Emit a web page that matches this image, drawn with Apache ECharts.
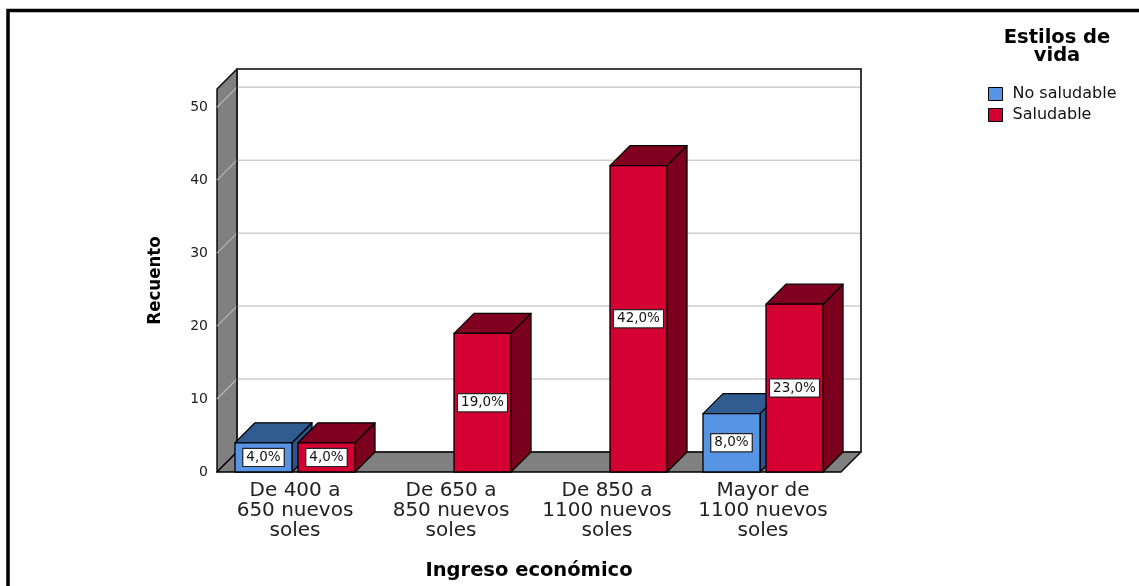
<!DOCTYPE html>
<html>
<head>
<meta charset="utf-8">
<script src="https://cdn.jsdelivr.net/npm/echarts@6/dist/echarts.min.js"></script>
<style>
  html, body { margin: 0; padding: 0; background: #fff; }
  #chart { width: 1139px; height: 586px; }
</style>
</head>
<body>
<div id="chart"></div>
<script>
// Counts of respondents by income bracket and lifestyle
const categories = [
  'De 400 a\n650 nuevos\nsoles',
  'De 650 a\n850 nuevos\nsoles',
  'De 850 a\n1100 nuevos\nsoles',
  'Mayor de\n1100 nuevos\nsoles'
];
const seriesNames = ['No saludable', 'Saludable'];
const noSaludable = [4, 0, 0, 8];
const saludable = [4, 19, 42, 23];
const yTicks = [0, 10, 20, 30, 40, 50];

const total = noSaludable.concat(saludable).reduce((a, b) => a + b, 0);

// 3D look: depth offset of the back plane, bar size
const DX = 20, DY = -20;
const BAR_W = 57, GAP = 6;
const FONT = '"DejaVu Sans", "Liberation Sans", sans-serif';

const palette = {
  'No saludable': { front: '#5795e4', top: '#315c92', side: '#2c5689' },
  'Saludable':    { front: '#d50032', top: '#800020', side: '#7a001e' }
};

function fmtPct(v) {
  return (v / total * 100).toFixed(1).replace('.', ',') + '%';
}

// Walls, floor and gridlines of the 3D box
function renderFrame(params, api) {
  const cs = params.coordSys;
  const gx = cs.x, gy = cs.y, gw = cs.width, gh = cs.height;
  const yb = gy + gh;
  const edge = { stroke: '#000', lineWidth: 1.4, lineJoin: 'round' };
  const children = [
    { type: 'rect', shape: { x: gx + DX, y: gy + DY, width: gw, height: gh },
      style: { fill: '#fff', stroke: '#444', lineWidth: 1.2 } },
    { type: 'polygon', shape: { points: [[gx, gy], [gx + DX, gy + DY], [gx + DX, yb + DY], [gx, yb]] },
      style: Object.assign({ fill: '#808080' }, edge) },
    { type: 'polygon', shape: { points: [[gx, yb], [gx + DX, yb + DY], [gx + gw + DX, yb + DY], [gx + gw, yb]] },
      style: Object.assign({ fill: '#808080' }, edge) }
  ];
  yTicks.forEach(function (t) {
    if (t === 0) return;
    const y = api.coord([0, t])[1];
    children.push({ type: 'line', shape: { x1: gx + DX, y1: y + DY, x2: gx + gw + DX, y2: y + DY },
      style: { stroke: '#cfcfcf', lineWidth: 1.5 } });
    children.push({ type: 'line', shape: { x1: gx, y1: y, x2: gx + DX, y2: y + DY },
      style: { stroke: '#b4b4b4', lineWidth: 1.2 } });
  });
  // top and right edges of the back wall
  children.push({ type: 'polyline', shape: { points: [[gx + DX, yb + DY], [gx + DX, gy + DY], [gx + gw + DX, gy + DY], [gx + gw + DX, yb + DY]] },
    style: { stroke: '#222', lineWidth: 1.6, fill: null } });
  return { type: 'group', children: children };
}

function barRenderer(name, side) {
  const c = palette[name];
  return function (params, api) {
    const v = api.value(1);
    if (!(v > 0)) return null;
    const top = api.coord([api.value(0), v]);
    const base = api.coord([api.value(0), 0]);
    const x0 = side < 0 ? top[0] - GAP / 2 - BAR_W : top[0] + GAP / 2;
    const x1 = x0 + BAR_W;
    const yT = top[1], yB = base[1];
    const edge = { stroke: '#000', lineWidth: 1.3, lineJoin: 'round' };
    return {
      type: 'group',
      children: [
        { type: 'polygon', shape: { points: [[x1, yT], [x1 + DX, yT + DY], [x1 + DX, yB + DY], [x1, yB]] },
          style: Object.assign({ fill: c.side }, edge) },
        { type: 'polygon', shape: { points: [[x0, yT], [x0 + DX, yT + DY], [x1 + DX, yT + DY], [x1, yT]] },
          style: Object.assign({ fill: c.top }, edge) },
        { type: 'rect', shape: { x: x0, y: yT, width: BAR_W, height: yB - yT },
          style: Object.assign({ fill: c.front }, edge) },
        { type: 'text', x: (x0 + x1) / 2, y: (yT + yB) / 2,
          style: { text: fmtPct(v), align: 'center', verticalAlign: 'middle',
                   fontFamily: FONT, fontSize: 13.5, fill: '#111',
                   backgroundColor: '#fff', borderColor: '#222', borderWidth: 1.2,
                   padding: [2, 3, 1, 3] } }
      ]
    };
  };
}

const chart = echarts.init(document.getElementById('chart'), null, { renderer: 'canvas' });

chart.setOption({
  backgroundColor: '#fff',
  animation: false,
  grid: { left: 217, right: 298, top: 89, bottom: 112, containLabel: false },
  xAxis: {
    type: 'category',
    data: categories,
    axisLine: { show: false },
    axisTick: { show: false },
    axisLabel: { margin: 9, fontFamily: FONT, fontSize: 20, lineHeight: 20, color: '#222', interval: 0 },
    name: 'Ingreso económico',
    nameLocation: 'middle',
    nameGap: 89,
    nameTextStyle: { fontFamily: FONT, fontWeight: 'bold', fontSize: 19.5, color: '#000' }
  },
  yAxis: {
    type: 'value',
    min: 0,
    max: 52.5,
    interval: 10,
    axisLine: { show: false },
    axisTick: { show: false },
    splitLine: { show: false },
    axisLabel: { margin: 9, showMaxLabel: false, fontFamily: FONT, fontSize: 14, color: '#222' },
    name: 'Recuento',
    nameLocation: 'middle',
    nameRotate: 90,
    nameGap: 52,
    nameTextStyle: { fontFamily: '"DejaVu Sans Condensed", "DejaVu Sans", sans-serif',
                     fontWeight: 'bold', fontSize: 18.5, color: '#000' }
  },
  legend: {
    data: seriesNames,
    orient: 'vertical',
    left: 983,
    top: 81,
    itemWidth: 14,
    itemHeight: 13,
    itemGap: 5,
    icon: 'rect',
    itemStyle: { borderColor: '#000', borderWidth: 1 },
    textStyle: { fontFamily: FONT, fontSize: 16, color: '#111', padding: [0, 0, 0, 5] },
    selectedMode: false
  },
  graphic: [
    { type: 'polyline', silent: true, z: 100,
      shape: { points: [[8, 586], [8, 10.5], [1139, 10.5]] },
      style: { stroke: '#000', lineWidth: 3.5, fill: null } },
    { type: 'text', x: 1057, y: 29, silent: true,
      style: { text: 'Estilos de\nvida', align: 'center', verticalAlign: 'top',
               fontFamily: FONT, fontWeight: 'bold', fontSize: 19.5, lineHeight: 18, fill: '#000' } }
  ],
  series: [
    { type: 'custom', name: '_frame', silent: true, z: 1,
      renderItem: renderFrame, data: [[0, 0]] },
    { type: 'custom', name: seriesNames[0], z: 2, silent: true,
      itemStyle: { color: palette[seriesNames[0]].front },
      renderItem: barRenderer(seriesNames[0], -1),
      data: noSaludable.map((v, i) => [i, v]) },
    { type: 'custom', name: seriesNames[1], z: 3, silent: true,
      itemStyle: { color: palette[seriesNames[1]].front },
      renderItem: barRenderer(seriesNames[1], 1),
      data: saludable.map((v, i) => [i, v]) }
  ]
});
</script>
</body>
</html>
